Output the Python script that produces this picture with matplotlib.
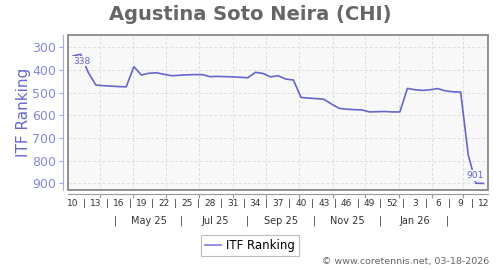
import numpy as np
import matplotlib
matplotlib.use("Agg")
import matplotlib.pyplot as plt
from matplotlib.lines import Line2D
from matplotlib.patches import Rectangle

# semaines (10/2025 -> 12/2026) et classement ITF
semaines = list(range(10, 53)) + list(range(1, 13))
classement = [338, 330, 410, 466, 469, 471, 473, 474, 385, 422,
              414, 412, 419, 425, 423, 421, 420, 420, 429, 428,
              429, 430, 432, 434, 410, 415, 430, 425, 440, 444,
              521, 524, 526, 529, 550, 569, 573, 575, 576, 585,
              584, 583, 585, 585, 481, 487, 490, 487, 482, 492,
              496, 497, 775, 900, 901]
debut = np.datetime64("2025-03-07")
debuts_mois = np.arange(np.datetime64("2025-04"), np.datetime64("2026-04"),
                        dtype="datetime64[M]").astype("datetime64[D]")
mois_labels = ["May 25", "Jul 25", "Sep 25", "Nov 25", "Jan 26"]
mois_dates = np.array(["2025-05-16", "2025-07-16", "2025-09-15",
                       "2025-11-15", "2026-01-16"], dtype="datetime64[D]")
separateurs = np.array(["2025-04-15", "2025-06-15", "2025-08-15",
                        "2025-10-15", "2025-12-15", "2026-02-15"],
                       dtype="datetime64[D]")

BLEU = "#6666cc"
BLEU_CLAIR = "#8888dd"
GRIS = "#666666"


def en_semaines(d):
    return (d - debut).astype(int) / 7.0


x = np.arange(len(classement))

fig = plt.figure(figsize=(5, 2.7), dpi=100)
ax = fig.add_axes([0.136, 0.2963, 0.84, 0.5741])
ax.set_facecolor("#f8f8f8")

ax.plot(x, classement, color=BLEU, lw=1.2, zorder=3)
ax.set_xlim(-0.66, 54.6)
ax.set_ylim(930, 245)

# grille
ax.set_yticks([300, 400, 500, 600, 700, 800, 900])
ax.set_xticks(en_semaines(debuts_mois))
ax.set_xticklabels([])
ax.grid(True, color="#dddddd", ls=(0, (3, 2)), lw=0.7)
ax.set_axisbelow(True)

# cadre + axes decales
for s in ["top", "right"]:
    ax.spines[s].set_visible(False)
ax.spines["left"].set_position(("outward", 3.6))
ax.spines["left"].set_color("#aaaadd")
ax.spines["bottom"].set_position(("outward", 2.9))
ax.spines["bottom"].set_color("#999999")
ax.add_patch(Rectangle((0, 0), 1, 1, transform=ax.transAxes, fill=False,
                       ec="#888888", lw=1.3, zorder=4, clip_on=False))
ax.tick_params(axis="y", colors="#aaaadd", labelcolor=BLEU_CLAIR,
               labelsize=9, length=3, pad=2)
ax.tick_params(axis="x", colors="#999999", length=3)

# etiquettes des semaines
tr = ax.get_xaxis_transform()
for i in range(0, len(semaines), 3):
    ax.text(i, -0.09, str(semaines[i]), transform=tr, ha="center",
            va="center", fontsize=6.5, color="#333333")
    if i + 3 < len(semaines):
        ax.text(i + 1.5, -0.09, "|", transform=tr, ha="center",
                va="center", fontsize=6.5, color="#333333")
for d, lab in zip(mois_dates, mois_labels):
    ax.text(en_semaines(d), -0.2, lab, transform=tr, ha="center",
            va="center", fontsize=7, color="#333333")
for d in separateurs:
    ax.text(en_semaines(d), -0.2, "|", transform=tr, ha="center",
            va="center", fontsize=7, color="#333333")

# valeurs de debut et fin
ax.text(x[0], classement[0] + 22, str(classement[0]), ha="left", va="center",
        fontsize=6.6, color=BLEU, zorder=5,
        bbox=dict(fc="#f8f8f8", ec="none", pad=0.5))
ax.text(x[-1], classement[-1] - 35, str(classement[-1]), ha="right",
        va="center", fontsize=6.6, color=BLEU, zorder=5,
        bbox=dict(fc="#f8f8f8", ec="none", pad=0.5))

ax.set_ylabel("ITF Ranking", color=BLEU, fontsize=11, labelpad=1)
fig.text(0.5, 0.948, "Agustina Soto Neira (CHI)", ha="center", va="center",
         fontsize=14, fontweight="bold", color=GRIS)

leg = fig.legend([Line2D([], [], color=BLEU_CLAIR, lw=1.3)], ["ITF Ranking"],
                 loc="center", bbox_to_anchor=(0.5, 0.09), fontsize=8.5,
                 frameon=True, fancybox=False, handlelength=1.4,
                 handletextpad=0.4, borderpad=0.35)
leg.get_frame().set_edgecolor("#aaaaaa")
leg.get_frame().set_linewidth(0.8)

fig.text(0.978, 0.03, "\u00a9 www.coretennis.net, 03-18-2026", ha="right",
         va="center", fontsize=6.8, color=GRIS)

fig.savefig("out.png", dpi=100)
